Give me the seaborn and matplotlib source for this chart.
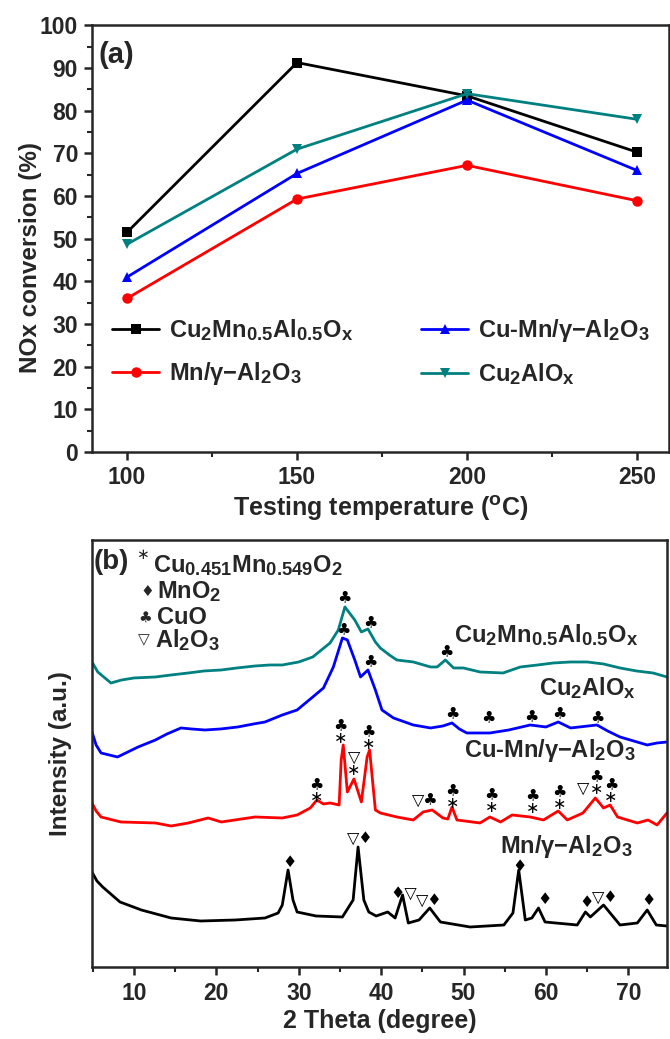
import numpy as np
import pandas as pd
import matplotlib
matplotlib.use("Agg")
import matplotlib.pyplot as plt
from matplotlib.ticker import MultipleLocator, NullLocator
from matplotlib.lines import Line2D
import seaborn as sns

try:
    import matplotlib._mathtext as _mt
    _mt.SHRINK_FACTOR = 0.78
except Exception:
    pass

# ---------------- Panel (a) data ----------------
temps = [100, 150, 200, 250]
cu2mn_alox = [51.5, 91.3, 83.5, 70.3]
mn_al2o3 = [36.0, 59.3, 67.2, 58.9]
cumn_al2o3 = [41.0, 65.3, 82.5, 66.0]
cu2alox = [48.7, 71.0, 84.0, 78.0]

names_a = [r"Cu$_2$Mn$_{0.5}$Al$_{0.5}$O$_x$", r"Mn/γ−Al$_2$O$_3$",
           r"Cu-Mn/γ−Al$_2$O$_3$", r"Cu$_2$AlO$_x$"]
colors = ["#000000", "#ff0000", "#0000ff", "#008080"]
markers = ["s", "o", "^", "v"]

# ---------------- Panel (b) data (2theta, intensity a.u.) ----------------
teal_x = [4.9, 5.6, 7.2, 8.5, 10.0, 12.6, 14.5, 16.6, 18.5, 20.6, 22.5, 24.7, 26.5,
          28.0, 30.0, 31.7, 33.8, 34.8, 35.6, 36.8, 37.6, 38.4, 39.3, 39.9, 41.0,
          41.9, 43.9, 46.0, 46.8, 47.8, 48.8, 50.0, 52.0, 54.8, 56.9, 59.0, 60.9,
          63.0, 65.0, 67.0, 69.0, 71.0, 73.0, 74.7]
teal_y = [305, 295, 284, 287, 289, 290, 292, 294, 296, 297, 299, 301, 302,
          302, 305, 310, 324, 337, 360, 347, 335, 338, 325, 319, 312,
          307, 305, 300, 300, 307, 299, 299, 295, 294, 300, 302, 304,
          305, 305, 303, 299, 296, 294, 290]

blue_x = [4.9, 5.4, 6.0, 8.0, 10.5, 12.6, 14.0, 15.7, 17.0, 18.6, 20.5, 22.6, 24.5,
          25.9, 28.0, 29.8, 31.7, 33.0, 34.2, 35.3, 35.9, 36.8, 37.5, 38.4, 39.3,
          40.1, 41.5, 43.9, 46.0, 47.5, 48.6, 49.5, 50.4, 53.2, 55.5, 58.1, 60.0,
          61.5, 63.0, 66.2, 67.5, 69.0, 72.3, 73.5, 74.7]
blue_y = [235, 222, 214, 210, 220, 227, 233, 239, 238, 237, 238, 240, 243,
          245, 252, 257, 270, 279, 300, 329, 327, 307, 290, 297, 277,
          257, 249, 242, 239, 241, 244, 238, 234, 234, 237, 242, 240,
          245, 239, 242, 236, 230, 222, 224, 225]

red_x = [4.9, 5.4, 6.0, 8.4, 12.6, 14.5, 16.6, 19.0, 20.6, 24.7, 28.0, 29.8, 31.4,
         32.2, 33.0, 33.8, 34.9, 35.15, 35.4, 35.9, 36.7, 37.6, 38.3, 38.6, 39.3,
         39.9, 41.9, 43.9, 45.1, 46.2, 47.5, 48.1, 48.6, 49.2, 52.0, 53.2, 54.5,
         55.9, 58.1, 59.7, 61.5, 62.6, 64.5, 66.0, 67.0, 67.8, 68.7, 71.1, 72.4,
         73.5, 74.7]
red_y = [164, 156, 150, 145, 144, 141, 144, 149, 145, 150, 149, 152, 159,
         167, 163, 164, 162, 207, 222, 175, 188, 165, 210, 217, 157,
         154, 150, 147, 155, 157, 149, 148, 160, 147, 144, 150, 145,
         152, 150, 147, 156, 147, 154, 169, 159, 162, 150, 144, 147,
         142, 154]

black_x = [4.9, 5.5, 6.2, 8.3, 10.9, 14.5, 18.1, 22.3, 25.9, 27.5, 28.0, 28.7, 29.3,
           29.8, 32.1, 35.3, 36.6, 37.2, 37.9, 38.5, 39.4, 40.8, 41.7, 42.6, 43.3,
           44.6, 45.9, 47.2, 50.8, 54.9, 56.0, 56.7, 57.5, 58.3, 59.1, 59.9, 63.8,
           64.8, 65.4, 67.0, 69.0, 71.1, 72.3, 73.4, 74.7]
black_y = [95, 86, 80, 65, 57, 49, 46, 47, 49, 54, 62, 97, 67,
           55, 51, 50, 67, 120, 67, 55, 51, 55, 49, 72, 44,
           47, 59, 45, 40, 42, 54, 97, 47, 49, 59, 45, 42,
           55, 50, 62, 42, 44, 57, 42, 41]

# peak markers: (symbols, 2theta, intensity of the stack centre, horizontal alignment)
CLUB, DIAM, TRI, AST = "\u2663", "\u2666", "\u25BD", "\u2217"
peak_marks = [
    (CLUB, 35.6, 369, "center"), (CLUB, 38.7, 344, "center"), (CLUB, 47.9, 315, "center"),
    (CLUB, 35.4, 337, "center"), (CLUB, 38.7, 305, "center"), (CLUB, 48.7, 253, "center"),
    (CLUB, 53.0, 249, "center"), (CLUB, 58.3, 250, "center"), (CLUB, 61.6, 253, "center"),
    (CLUB, 66.2, 249, "center"),
    (CLUB + "\n" + AST, 32.2, 176, "center"),
    (CLUB + "\n" + AST, 35.1, 235, "center"),
    (TRI + "\n" + AST, 36.7, 203, "center"),
    (CLUB + "\n" + AST, 38.5, 229, "center"),
    (TRI + CLUB, 45.3, 167, "center"),
    (CLUB + "\n" + AST, 48.7, 170, "center"),
    (CLUB + "\n" + AST, 53.4, 166, "center"),
    (CLUB + "\n" + AST, 58.4, 165, "center"),
    (CLUB + "\n" + AST, 61.7, 169, "center"),
    (TRI, 65.3, 179, "right"),
    (CLUB + "\n" + AST, 66.1, 184, "center"),
    (CLUB + "\n" + AST, 67.9, 176, "center"),
    (DIAM, 28.9, 104, "center"),
    (TRI + DIAM, 37.45, 129, "center"),
    (DIAM + TRI, 42.75, 74, "center"),
    (TRI + DIAM, 45.9, 67, "center"),
    (DIAM, 56.8, 100, "center"), (DIAM, 59.8, 67, "center"), (DIAM, 64.9, 64, "center"),
    (TRI + DIAM, 67.25, 70, "center"), (DIAM, 72.5, 66, "center"),
]

curve_labels = [
    (r"Cu$_2$Mn$_{0.5}$Al$_{0.5}$O$_x$", 71.2, 325),
    (r"Cu$_2$AlO$_x$", 70.9, 272),
    (r"Cu-Mn/γ−Al$_2$O$_3$", 70.9, 210),
    (r"Mn/γ−Al$_2$O$_3$", 70.5, 114),
]

phase_legend = [
    (AST, r"Cu$_{0.451}$Mn$_{0.549}$O$_2$", 11.0, 412, 12.3, 395),
    (DIAM, r"MnO$_2$", 11.6, 375, 12.8, 369),
    (CLUB, r"CuO", 11.3, 350, 12.8, 343),
    (TRI, r"Al$_2$O$_3$", 11.2, 327, 12.55, 320),
]

# ---------------- style ----------------
sns.set_style("ticks")
plt.rcParams["font.family"] = ["Liberation Sans", "DejaVu Sans"]
plt.rcParams["font.weight"] = "bold"
plt.rcParams["mathtext.default"] = "regular"
plt.rcParams["axes.linewidth"] = 1.8
TFS = 16.5  # tick labels
LFS = 18    # axis labels
AFS = 17    # annotations / legend

fig = plt.figure(figsize=(6.7, 10.39), dpi=100)
ax1 = fig.add_axes([0.1373, 0.5650, 0.8612, 0.4105])
ax2 = fig.add_axes([0.1373, 0.0693, 0.8582, 0.4110])

# ---- panel a ----
df_a = pd.DataFrame({
    "T": temps * 4,
    "conv": cu2mn_alox + mn_al2o3 + cumn_al2o3 + cu2alox,
    "sample": sum([[n] * 4 for n in names_a], []),
})
handles = []
for n, c, m in zip(names_a, colors, markers):
    sub = df_a[df_a["sample"] == n]
    sns.lineplot(data=sub, x="T", y="conv", ax=ax1, color=c, lw=2.0,
                 marker=m, markersize=7.5, markeredgewidth=0, legend=False)
    handles.append(Line2D([0], [0], color=c, lw=2.0, marker=m, markersize=7.5,
                          markeredgewidth=0))

ax1.set_xlim(89.7, 259.4)
ax1.set_ylim(0, 100)
ax1.xaxis.set_major_locator(MultipleLocator(50))
ax1.xaxis.set_minor_locator(MultipleLocator(25))
ax1.yaxis.set_major_locator(MultipleLocator(10))
ax1.yaxis.set_minor_locator(MultipleLocator(5))
ax1.tick_params(which="major", direction="out", length=6, width=1.8, labelsize=TFS, pad=4)
ax1.tick_params(which="minor", direction="out", length=3.5, width=1.5)
ax1.set_xlabel(r"Testing temperature ($^{o}$C)", fontsize=LFS, fontweight="bold", labelpad=3)
ax1.set_ylabel("NOx conversion (%)", fontsize=17.5, fontweight="bold")
ax1.yaxis.set_label_coords(-0.087, 0.457)
ax1.text(0.012, 0.93, "(a)", transform=ax1.transAxes, fontsize=21, fontweight="bold",
         va="center", ha="left")
leg = ax1.legend(handles, names_a, ncol=2, loc="upper left", bbox_to_anchor=(0.01, 0.35),
                 frameon=False, fontsize=AFS, handlelength=2.0, columnspacing=2.9,
                 handletextpad=0.4, labelspacing=0.75, borderaxespad=0.2)
for t in leg.get_texts():
    t.set_fontweight("bold")
for sp in ax1.spines.values():
    sp.set_visible(True)

# ---- panel b ----
curves = [(black_x, black_y, colors[0]), (red_x, red_y, colors[1]),
          (blue_x, blue_y, colors[2]), (teal_x, teal_y, colors[3])]
for xs, ys, c in curves:
    sns.lineplot(x=xs, y=ys, ax=ax2, color=c, lw=2.0, sort=False,
                 estimator=None, legend=False)

ax2.set_xlim(4.9, 74.7)
ax2.set_ylim(0, 427)
ax2.xaxis.set_major_locator(MultipleLocator(10))
ax2.xaxis.set_minor_locator(MultipleLocator(5))
ax2.yaxis.set_major_locator(NullLocator())
ax2.tick_params(which="major", direction="out", length=6, width=1.8, labelsize=TFS, pad=5)
ax2.tick_params(which="minor", direction="out", length=3.5, width=1.5)
ax2.set_xlabel("2 Theta (degree)", fontsize=LFS, fontweight="bold", labelpad=3)
ax2.set_ylabel("Intensity (a.u.)", fontsize=17.5, fontweight="bold")
ax2.yaxis.set_label_coords(-0.035, 0.5)
for sp in ax2.spines.values():
    sp.set_visible(True)

for sym, x, y, ha in peak_marks:
    ax2.text(x, y, sym, fontsize=11.5, ha=ha, va="center", linespacing=0.85,
             family=["DejaVu Sans"], fontweight="normal", color="black")

for txt, x, y in curve_labels:
    ax2.text(x, y, txt, fontsize=AFS, fontweight="bold", ha="right", va="baseline")

ax2.text(5.05, 398, "(b)", fontsize=20, fontweight="bold", ha="left", va="baseline")
for sym, label, sx, sy, tx, ty in phase_legend:
    ax2.text(sx, sy, sym, fontsize=11, ha="center", va="center",
             family=["DejaVu Sans"], fontweight="normal")
    ax2.text(tx, ty, label, fontsize=AFS, fontweight="bold", ha="left", va="baseline")

fig.savefig("out.png", dpi=100)
